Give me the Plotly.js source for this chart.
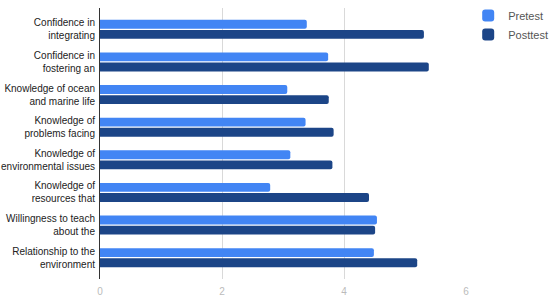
<!DOCTYPE html>
<html>
<head>
<meta charset="utf-8">
<script src="https://cdn.plot.ly/plotly-3.0.1.min.js"></script>
<style>html,body{margin:0;padding:0;background:#fff;}#chart{width:550px;height:303px;}</style>
</head>
<body>
<div id="chart"></div>
<script>
const categories = [
  "Confidence in<br>integrating",
  "Confidence in<br>fostering an",
  "Knowledge of ocean<br>and marine life",
  "Knowledge of<br>problems facing",
  "Knowledge of<br>environmental issues",
  "Knowledge of<br>resources that",
  "Willingness to teach<br>about the",
  "Relationship to the<br>environment"
];
const pretest = [3.39, 3.74, 3.07, 3.37, 3.12, 2.79, 4.54, 4.49];
const posttest = [5.31, 5.39, 3.75, 3.83, 3.81, 4.41, 4.51, 5.20];
const seriesNames = ["Pretest", "Posttest"];
const xTicks = [0, 2, 4, 6];

const data = [
  {type: 'bar', orientation: 'h', name: seriesNames[0], legendgroup: 'a', y: categories, x: pretest,
   marker: {color: '#4285f4', cornerradius: 2}},
  {type: 'bar', orientation: 'h', name: seriesNames[1], legendgroup: 'b', y: categories, x: posttest,
   marker: {color: '#1c4587', cornerradius: 2}}
];
const layout = {
  width: 550, height: 303,
  margin: {l: 100, r: 84, t: 8, b: 24, autoexpand: false},
  paper_bgcolor: '#fff', plot_bgcolor: '#fff',
  font: {family: 'Liberation Sans, Arial, sans-serif', size: 10, color: '#222'},
  barmode: 'group', bargap: 0.38, bargroupgap: 0.12,
  showlegend: true,
  legend: {x: 1.006, xanchor: 'left', y: 1.026, yanchor: 'top', traceorder: 'normal',
           font: {size: 11, color: '#555'}, itemwidth: 30, tracegroupgap: 3},
  xaxis: {range: [0, 6], tickvals: xTicks, ticktext: xTicks.map(String),
          showgrid: true, gridcolor: '#d9d9d9', gridwidth: 1, zeroline: false,
          showline: false, ticks: '', tickfont: {size: 10, color: '#bbb'},
          ticklabelstandoff: 5, fixedrange: true},
  yaxis: {type: 'category', range: [7.655, -0.655], showgrid: false, zeroline: false,
          showline: true, linecolor: '#333', linewidth: 1, ticks: '',
          tickfont: {size: 10, color: '#222'}, ticklabelstandoff: 2, fixedrange: true}
};
Plotly.newPlot('chart', data, layout, {displayModeBar: false, staticPlot: true});
</script>
</body>
</html>
